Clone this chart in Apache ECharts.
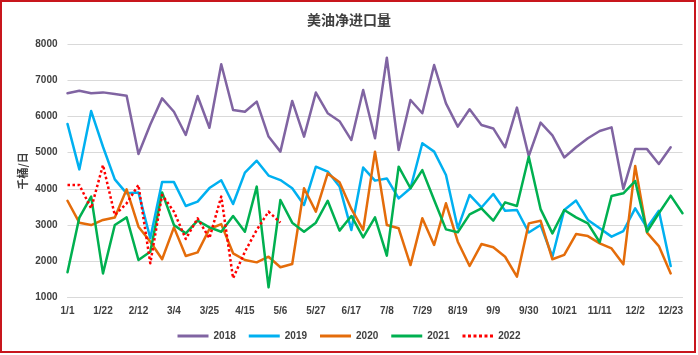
<!DOCTYPE html>
<html>
<head>
<meta charset="utf-8">
<script src="https://cdn.jsdelivr.net/npm/echarts@6/dist/echarts.min.js"></script>
<style>
html,body{margin:0;padding:0;background:#fff;}
#chart{position:absolute;left:0;top:0;width:698px;height:355px;}
#frame{position:absolute;left:0;top:0;width:692px;height:349px;border:2px solid #c8161d;pointer-events:none;}
</style>
</head>
<body>
<div id="chart"></div>
<div id="frame"></div>
<script>
const categories = ['1/1','1/8','1/15','1/22','1/29','2/5','2/12','2/19','2/26','3/4','3/11','3/18','3/25','4/1','4/8','4/15','4/22','4/29','5/6','5/13','5/20','5/27','6/3','6/10','6/17','6/24','7/1','7/8','7/15','7/22','7/29','8/5','8/12','8/19','8/26','9/2','9/9','9/16','9/23','9/30','10/7','10/14','10/21','10/28','11/4','11/11','11/18','11/25','12/2','12/9','12/16','12/23','12/30'];

const s2018 = [6640,6710,6640,6665,6620,6575,4965,5780,6500,6130,5490,6565,5690,7440,6180,6130,6410,5445,5030,6430,5445,6660,6090,5870,5350,6730,5400,7620,5075,6455,6090,7420,6360,5720,6200,5765,5670,5150,6245,4910,5830,5480,4870,5150,5400,5600,5700,4000,5100,5100,4690,5150,null];
const s2019 = [5795,4540,6150,5165,4265,3880,3905,2640,4190,4190,3530,3650,4025,4240,3585,4450,4780,4370,4245,4020,3560,4615,4480,4070,2870,4590,4230,4290,3740,4020,5260,5030,4385,2915,3835,3490,3860,3400,3420,2800,3005,2130,3420,3680,3145,2915,2685,2840,3465,2930,3400,1875,null];
const s2020 = [3675,3070,3005,3145,3215,3990,2960,2545,2060,2940,2150,2250,2895,3030,2225,2040,1975,2130,1840,1930,4020,3375,4430,4185,3450,2870,5030,3005,2915,1900,3190,2455,3605,2545,1875,2480,2390,2130,1580,3050,3125,2060,2180,2755,2700,2500,2360,1920,4635,2795,2425,1670,null];
const s2021 = [1700,3210,3790,1670,3005,3215,2040,2270,3905,3005,2775,3125,2940,2820,3255,2820,4065,1285,3695,3070,2820,3070,3675,2850,3255,2665,3215,2160,4615,4020,4520,3695,2885,2805,3300,3465,3125,3630,3530,4890,3445,2775,3420,3215,3050,2530,3805,3880,4220,2820,3330,3815,3330];
const s2022 = [4110,4110,3465,4660,3280,3605,4110,1950,3835,3375,2620,3190,2640,3790,1535,2270,2870,3375,3070];

const yTicks = [1000,2000,3000,4000,5000,6000,7000,8000];
const seriesNames = ['2018','2019','2020','2021','2022'];
const seriesColors = ['#8064a2','#00b0f0','#e46c0a','#00b050','#ff0000'];
const seriesData = [s2018,s2019,s2020,s2021,s2022];

const solidIcon = 'path://M0,0h31v3h-31z';
const dottedIcon = 'path://M0,0h3v3h-3zM5.5,0h3v3h-3zM11,0h3v3h-3zM16.5,0h3v3h-3zM22,0h3v3h-3zM27.5,0h3v3h-3z';

const font = '"Liberation Sans", Arial, sans-serif';
const chart = echarts.init(document.getElementById('chart'), null, {renderer:'canvas'});
chart.setOption({
  animation:false,
  backgroundColor:'#ffffff',
  title:{
    text:'美油净进口量',
    left:'center', top:13, padding:0,
    textStyle:{fontFamily:'"Noto Sans CJK SC", sans-serif', fontWeight:'bold', fontSize:14, color:'#404040'}
  },
  legend:{
    data:seriesNames.map((n,i)=>({name:n, icon: i===4 ? dottedIcon : solidIcon, itemStyle:{color:seriesColors[i]}})),
    bottom:9, left:'center',
    itemWidth:31, itemHeight:3, itemGap:13,
    textStyle:{fontFamily:font, fontWeight:'bold', fontSize:10, color:'#404040'}
  },
  grid:{left:67.5, right:15.5, top:44, bottom:57.3, containLabel:false},
  xAxis:{
    type:'category', data:categories, boundaryGap:false,
    axisLine:{show:true, lineStyle:{color:'#d9d9d9', width:1}},
    axisTick:{show:false},
    axisLabel:{interval:2, margin:9, fontFamily:font, fontWeight:'bold', fontSize:10, color:'#404040'},
    splitLine:{show:false}
  },
  yAxis:{
    type:'value', min:yTicks[0], max:yTicks[yTicks.length-1], interval:1000,
    name:'千桶/日', nameLocation:'middle', nameGap:39, nameRotate:90, nameMoveOverlap:false,
    nameTextStyle:{fontFamily:'"Noto Sans CJK SC", sans-serif', fontWeight:'bold', fontSize:11, color:'#404040'},
    axisLine:{show:false}, axisTick:{show:false},
    axisLabel:{margin:10, formatter:v=>String(v), fontFamily:font, fontWeight:'bold', fontSize:10, color:'#404040'},
    splitLine:{lineStyle:{color:'#d9d9d9', width:1}}
  },
  series: seriesNames.map((n,i)=>({
    name:n, type:'line', data:seriesData[i], symbol:'none', showSymbol:false,
    connectNulls:false,
    itemStyle:{color:seriesColors[i]},
    lineStyle:{color:seriesColors[i], width:2.5, type: i===4 ? 'dotted' : 'solid', join:'round', cap: i===4 ? 'butt' : 'round'}
  }))
});
</script>
</body>
</html>
